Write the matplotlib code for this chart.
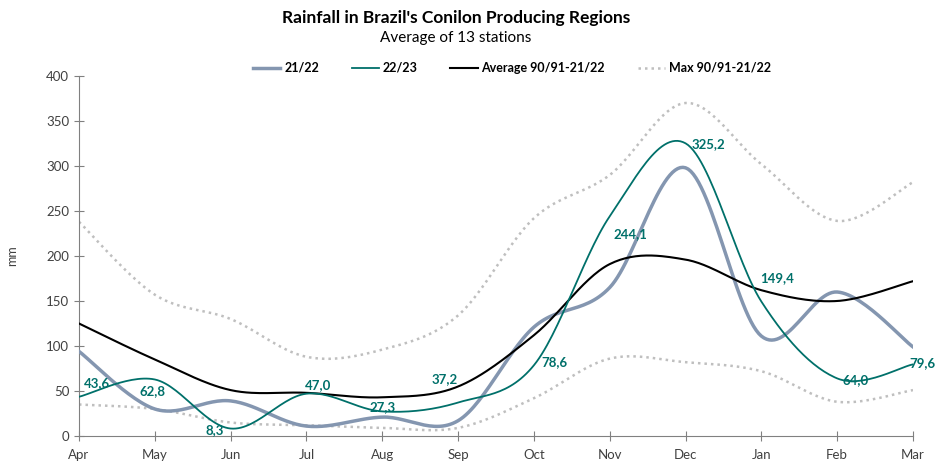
import numpy as np
import matplotlib
matplotlib.use("Agg")
import matplotlib.pyplot as plt

plt.rcParams["font.family"] = ["Lato", "DejaVu Sans"]

meses = ["Apr", "May", "Jun", "Jul", "Aug", "Sep", "Oct", "Nov", "Dec", "Jan", "Feb", "Mar"]
s2122 = [94, 30, 39, 11, 21, 17, 121, 165, 298, 111, 160, 99]
s2223 = [43.6, 62.8, 8.3, 47.0, 27.3, 37.2, 78.6, 244.1, 325.2, 149.4, 64.0, 79.6]
media = [125, 85, 51, 48, 43, 55, 112, 191, 196, 162, 150, 172]
maximo = [238, 157, 130, 88, 96, 134, 242, 290, 370, 302, 239, 282]
minimo = [35, 30, 15, 12, 9, 9, 42, 86, 82, 72, 38, 51]

# desplazamiento de las etiquetas (pixeles)
offs = [(18, 14), (-2, -12), (-16, -2), (12, 9), (0, 4), (-13, 23),
        (21, 3), (21, -18), (23, -1), (16, 23), (18, -2), (9, 1)]


def suavizar(y, n=30):
    # curva suavizada tipo Excel (Bezier / Catmull-Rom)
    x = np.arange(len(y), dtype=float)
    y = np.asarray(y, dtype=float)
    xs, ys = [], []
    for i in range(len(y) - 1):
        x0, y0 = x[max(i - 1, 0)], y[max(i - 1, 0)]
        x3, y3 = x[min(i + 2, len(y) - 1)], y[min(i + 2, len(y) - 1)]
        p0 = np.array([x[i], y[i]])
        p3 = np.array([x[i + 1], y[i + 1]])
        c1 = p0 + (p3 - np.array([x0, y0])) / 6
        c2 = p3 - (np.array([x3, y3]) - p0) / 6
        t = np.linspace(0, 1, n)[:, None]
        pts = (1 - t) ** 3 * p0 + 3 * (1 - t) ** 2 * t * c1 + 3 * (1 - t) * t ** 2 * c2 + t ** 3 * p3
        xs.extend(pts[:, 0])
        ys.extend(pts[:, 1])
    return np.array(xs), np.array(ys)


fig = plt.figure(figsize=(9.36, 4.63), dpi=100)
ax = fig.add_axes([79 / 936, 1 - 436 / 463, (913 - 79) / 936, (436 - 76) / 463])

gris = "#BFBFBF"
punteado = (0, (1, 1.6))
xs, ys = suavizar(maximo)
ax.plot(xs, ys, color=gris, lw=1.8, ls=punteado, label="Max 90/91-21/22")
xs, ys = suavizar(minimo)
ax.plot(xs, ys, color=gris, lw=1.8, ls=punteado)
xs, ys = suavizar(s2122)
ax.plot(xs, ys, color="#8496B0", lw=2.5, label="21/22", zorder=3)
xs, ys = suavizar(media)
ax.plot(xs, ys, color="black", lw=1.5, label="Average 90/91-21/22", zorder=4)
xs, ys = suavizar(s2223)
ax.plot(xs, ys, color="#00706A", lw=1.3, label="22/23", zorder=5)

for i, v in enumerate(s2223):
    ax.annotate(f"{v:.1f}".replace(".", ","), (i, v), xytext=offs[i], textcoords="offset pixels",
                ha="center", va="center", color="#00706A", fontsize=9.5, fontweight="bold",
                annotation_clip=False, zorder=6)

ax.set_xlim(0, len(meses) - 1)
ax.set_ylim(0, 400)
ax.set_xticks(range(len(meses)))
ax.set_xticklabels(meses)
ax.set_yticks(range(0, 401, 50))
for lado in ["top", "right"]:
    ax.spines[lado].set_visible(False)
for lado in ["left", "bottom"]:
    ax.spines[lado].set_color("#808080")
ax.tick_params(direction="inout", length=7, color="#808080", labelsize=9.5, labelcolor="#404040")
ax.tick_params(axis="x", pad=6)
ax.set_ylabel("mm", fontsize=9, color="#404040")
ax.yaxis.set_label_coords(-61 / 834, 0.5)

h, l = ax.get_legend_handles_labels()
orden = [l.index(k) for k in ["21/22", "22/23", "Average 90/91-21/22", "Max 90/91-21/22"]]
leg = fig.legend([h[i] for i in orden], [l[i] for i in orden], ncol=4, frameon=False,
                 loc="center", bbox_to_anchor=(0.547, 1 - 68 / 463), columnspacing=2.6,
                 handlelength=2.2, handletextpad=0.3, prop={"weight": "bold", "size": 9})

fig.text(0.487, 1 - 18 / 463, "Rainfall in Brazil's Conilon Producing Regions", ha="center", va="center",
         fontsize=12.5, fontweight="bold")
fig.text(0.487, 1 - 38 / 463, "Average of 13 stations", ha="center", va="center", fontsize=11)

fig.savefig("out.png", dpi=100)
